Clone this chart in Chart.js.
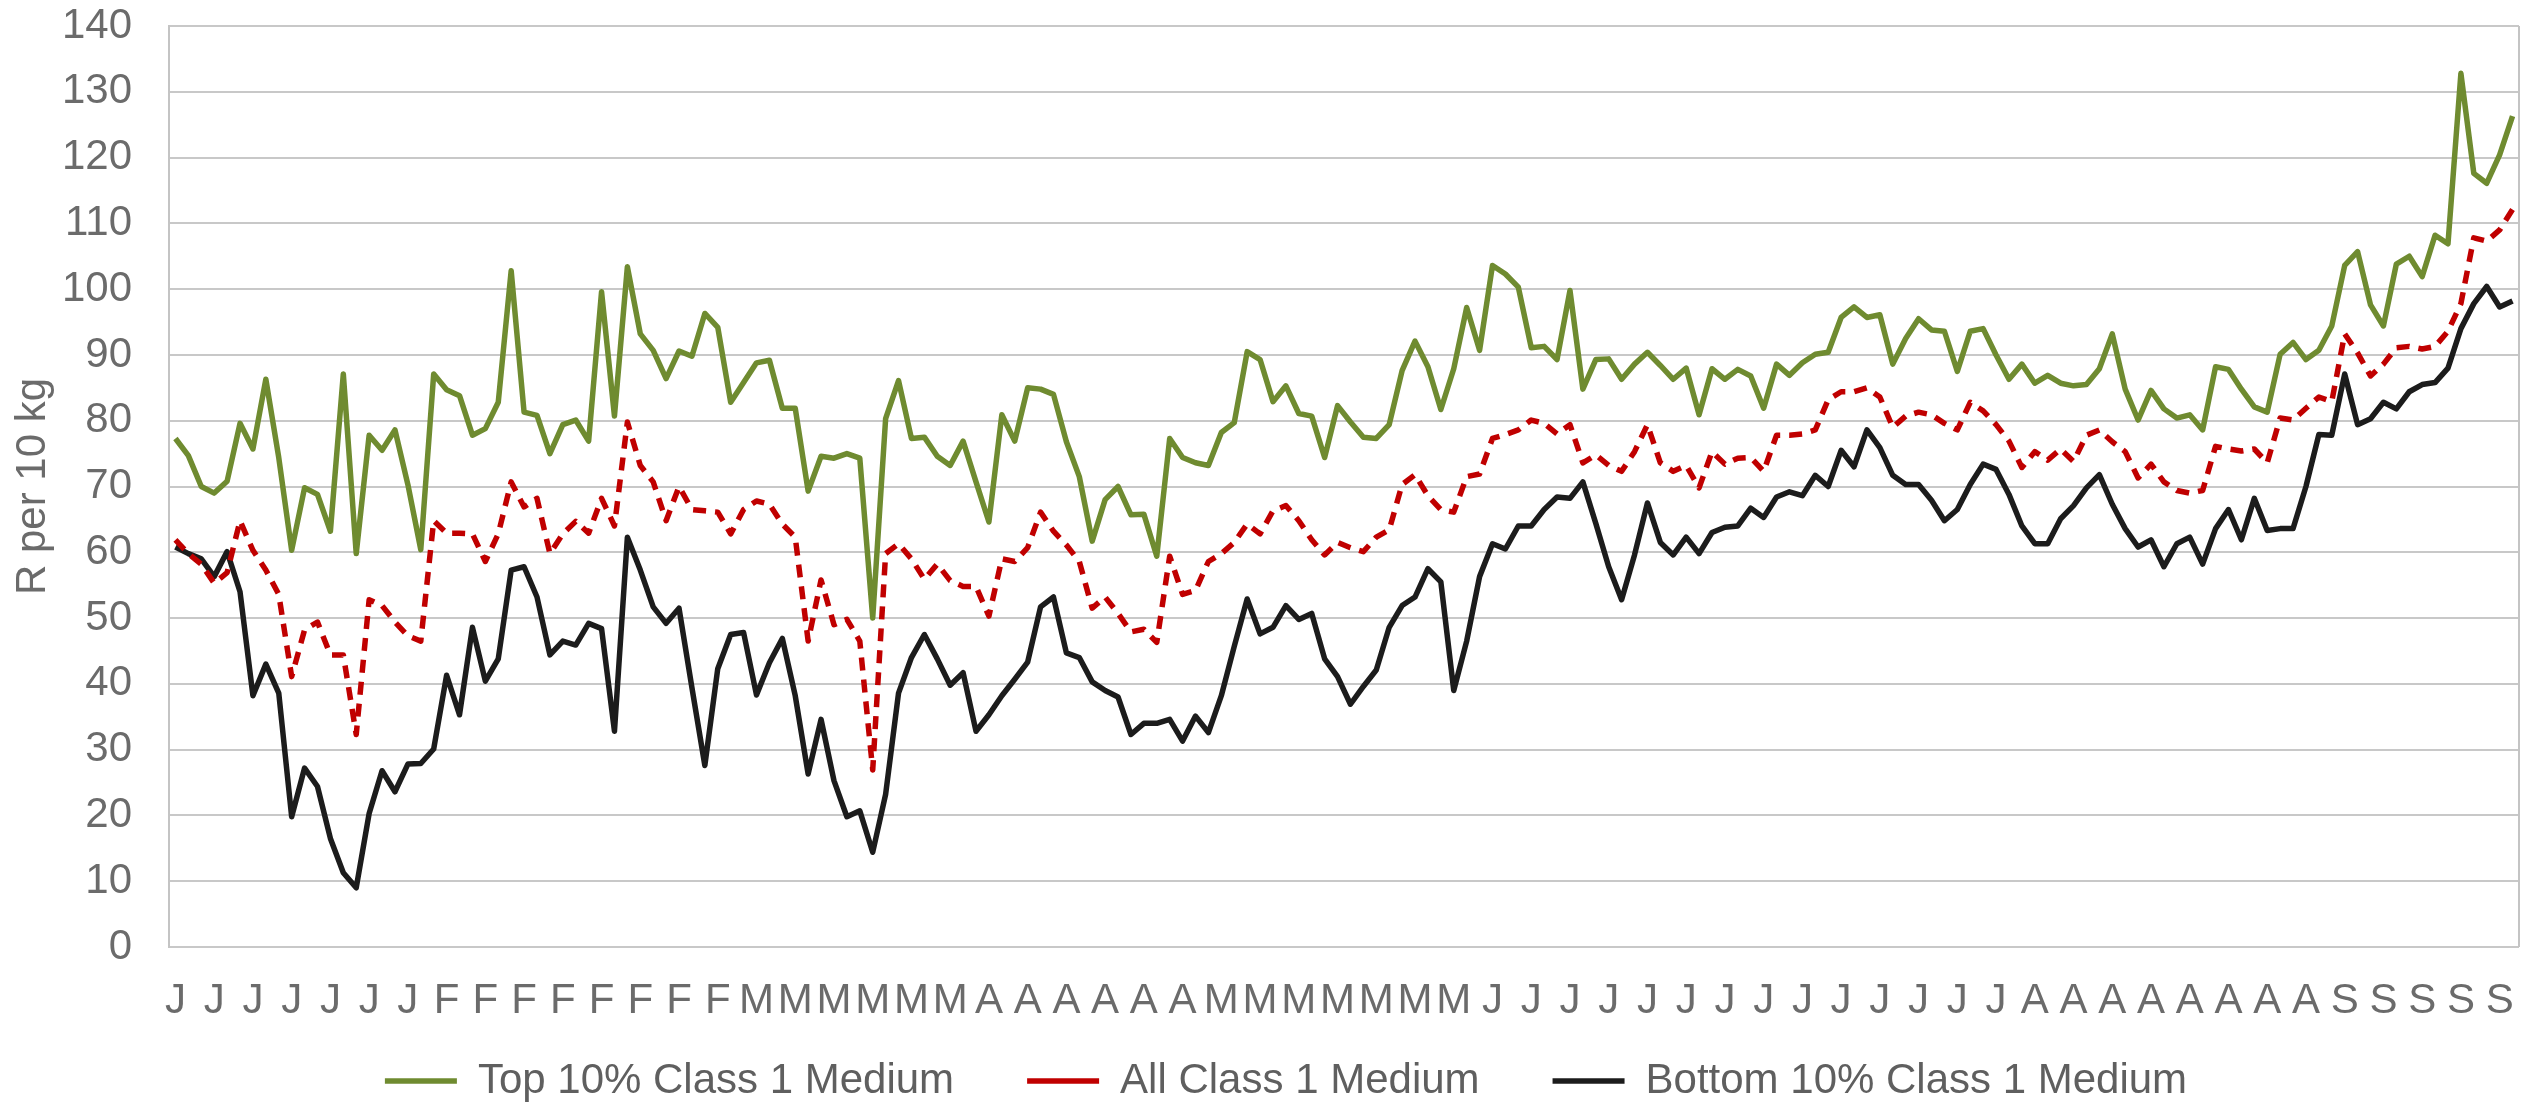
<!DOCTYPE html>
<html>
<head>
<meta charset="utf-8">
<script src="https://cdn.jsdelivr.net/npm/chart.js@4/dist/chart.umd.min.js"></script>
<style>
  html, body { margin: 0; padding: 0; background: #fff; }
  canvas { display: block; }
</style>
</head>
<body>
<canvas id="chart" width="2529" height="1106"></canvas>
<script>
// month initials shown on every third category
const tickLabels = "JJJJJJJFFFFFFFFMMMMMMAAAAAAMMMMMMMJJJJJJJJJJJJJJAAAAAAAASSSSS".split("");
const categories = Array.from({ length: 182 }, (_, i) => tickLabels[Math.floor(i / 3)]);

const topTen = [
  77.3, 74.7, 70, 69, 70.8, 79.6, 75.7, 86.3, 74.4, 60.3, 69.8, 68.8, 63.2, 87.1, 59.8, 77.8, 75.5, 78.6, 70.3, 60.4,
  87.1, 84.7, 83.8, 77.8, 78.8, 82.8, 102.8, 81.3, 80.8, 75, 79.4, 80.1, 76.9, 99.6, 80.7, 103.4, 93.2, 90.7, 86.4, 90.6,
  89.8, 96.3, 94.2, 82.8, 85.8, 88.8, 89.2, 81.9, 81.9, 69.3, 74.6, 74.3, 75, 74.3, 50, 80.3, 86.1, 77.3, 77.5, 74.6,
  73.2, 76.9, 70.7, 64.6, 80.9, 76.9, 85, 84.8, 84, 76.8, 71.5, 61.7, 68, 70, 65.7, 65.8, 59.4, 77.3, 74.4, 73.6,
  73.2, 78.2, 79.7, 90.5, 89.3, 82.9, 85.3, 81.1, 80.7, 74.4, 82.3, 79.8, 77.5, 77.3, 79.4, 87.6, 92.1, 88.2, 81.7, 87.9,
  97.2, 90.7, 103.6, 102.3, 100.3, 91.1, 91.3, 89.3, 99.8, 84.8, 89.3, 89.4, 86.3, 88.6, 90.4, 88.4, 86.3, 88, 80.9, 87.9,
  86.3, 87.8, 86.8, 81.9, 88.6, 86.9, 88.8, 90.1, 90.4, 95.7, 97.3, 95.7, 96.1, 88.6, 92.5, 95.5, 93.8, 93.6, 87.5, 93.6,
  94, 90, 86.3, 88.6, 85.7, 86.9, 85.7, 85.3, 85.5, 87.9, 93.2, 84.8, 80.1, 84.6, 81.8, 80.4, 80.9, 78.6, 88.2, 87.8,
  84.8, 82.1, 81.3, 90.1, 91.9, 89.3, 90.7, 94.4, 103.6, 105.7, 97.6, 94.4, 103.8, 105, 101.9, 108.2, 106.9, 132.8, 117.6, 116.1,
  120.4, 126.3
];

const allClass = [
  61.9, 59.8, 58.2, 55.3, 56.9, 64.8, 60.3, 57.3, 53.6, 41.1, 48.2, 49.4, 44.4, 44.4, 32.3, 52.8, 51.9, 49.4, 47.3, 46.5,
  64.8, 62.9, 62.9, 62.8, 58.6, 62.8, 70.7, 66.9, 68.2, 59.8, 62.8, 64.7, 62.9, 68.2, 64, 79.8, 73.2, 70.7, 64.8, 70,
  66.5, 66.3, 66.1, 62.8, 66.5, 67.8, 67.3, 64.3, 62.3, 46.5, 55.8, 49, 49.8, 46.5, 26.9, 59.8, 61.3, 59, 55.9, 58.2,
  55.7, 54.8, 54.8, 50.3, 59, 58.6, 60.7, 66.1, 63.2, 61.1, 58.6, 51.5, 53.2, 50.7, 47.9, 48.3, 46.3, 59.4, 53.6, 54.2,
  58.6, 59.8, 61.5, 64.3, 62.8, 66.3, 67.1, 64.8, 61.9, 59.6, 61.5, 60.7, 60.1, 62.3, 63.4, 70.3, 71.8, 68.6, 66.5, 66.1,
  71.5, 71.9, 77.3, 77.9, 78.6, 80.1, 79.6, 78, 79.4, 73.6, 74.8, 73.2, 72.3, 75.3, 79.4, 73.6, 72.3, 73.2, 69.8, 75.3,
  73.4, 74.3, 74.4, 72.3, 77.8, 77.8, 78, 78.6, 83.2, 84.4, 84.4, 85, 83.6, 79, 80.7, 81.3, 80.9, 79.6, 78.6, 82.8,
  81.5, 79.4, 76.9, 72.9, 75.3, 74, 75.7, 73.8, 77.8, 78.6, 76.8, 75.3, 71.3, 73.4, 70.7, 69.4, 69, 69.4, 76.1, 75.7,
  75.4, 75.7, 73.6, 80.4, 80.1, 81.9, 83.6, 82.9, 93.2, 90.3, 86.8, 88.6, 91.1, 91.3, 90.9, 91.3, 93.6, 97.8, 107.8, 107.3,
  109, 112.1
];

const bottomTen = [
  60.8, 59.8, 59, 56.3, 60.1, 54, 38.2, 43, 38.6, 19.8, 27.2, 24.4, 16.5, 11.3, 9, 20.3, 26.8, 23.6, 27.8, 27.9,
  30.1, 41.3, 35.3, 48.6, 40.4, 43.8, 57.3, 57.8, 53.2, 44.4, 46.5, 45.9, 49.2, 48.4, 32.8, 62.3, 57.3, 51.7, 49.2, 51.5,
  39.4, 27.6, 42.3, 47.5, 47.8, 38.3, 43.2, 46.9, 38.2, 26.3, 34.6, 25.3, 19.8, 20.7, 14.4, 23.2, 38.6, 44, 47.5, 43.8,
  39.8, 41.7, 32.8, 35.3, 38.2, 40.7, 43.3, 51.7, 53.2, 44.7, 44, 40.3, 39, 38, 32.3, 34, 34, 34.6, 31.3, 35.1,
  32.6, 38.2, 45.7, 52.9, 47.6, 48.6, 51.9, 49.8, 50.7, 43.8, 41.1, 36.9, 39.6, 42.1, 48.6, 51.9, 53.2, 57.5, 55.5, 39,
  46.5, 56.3, 61.3, 60.5, 64, 64, 66.5, 68.4, 68.2, 70.7, 64.4, 57.8, 52.8, 59.6, 67.5, 61.5, 59.6, 62.3, 59.8, 63,
  63.8, 64, 66.7, 65.3, 68.4, 69.2, 68.6, 71.7, 70, 75.5, 73, 78.6, 75.9, 71.7, 70.3, 70.3, 67.9, 64.8, 66.5, 70.3,
  73.4, 72.6, 68.8, 64, 61.3, 61.3, 65.1, 67.1, 69.8, 71.8, 67.3, 63.6, 60.8, 61.9, 57.8, 61.3, 62.3, 58.2, 63.6, 66.5,
  61.9, 68.2, 63.3, 63.6, 63.6, 70, 77.9, 77.8, 87.1, 79.4, 80.3, 82.8, 81.8, 84.4, 85.5, 85.8, 88, 94, 97.8, 100.4,
  97.3, 98.2
];

Chart.defaults.font.family = "'Liberation Sans', Arial, sans-serif";
Chart.defaults.font.size = 42;
Chart.defaults.color = "#6b6b6b";

// grey frame line on the right edge of the plot
const rightEdge = {
  id: "rightEdge",
  beforeDatasetsDraw(chart) {
    const { ctx, chartArea: a } = chart;
    ctx.save();
    ctx.strokeStyle = "#c4c4c4";
    ctx.lineWidth = 2;
    ctx.beginPath();
    ctx.moveTo(a.right, a.top);
    ctx.lineTo(a.right, a.bottom);
    ctx.stroke();
    ctx.restore();
  }
};

new Chart(document.getElementById("chart"), {
  type: "line",
  plugins: [rightEdge],
  data: {
    labels: categories,
    datasets: [
      { label: "Top 10% Class 1 Medium", data: topTen, borderColor: "#6f8b30", backgroundColor: "#6f8b30",
        borderWidth: 5.5, pointRadius: 0, tension: 0, borderJoinStyle: "round" },
      { label: "All Class 1 Medium", data: allClass, borderColor: "#c00000", backgroundColor: "#c00000",
        borderWidth: 5.5, borderDash: [13, 9], pointRadius: 0, tension: 0, borderJoinStyle: "round" },
      { label: "Bottom 10% Class 1 Medium", data: bottomTen, borderColor: "#1c1c1c", backgroundColor: "#1c1c1c",
        borderWidth: 5.5, pointRadius: 0, tension: 0, borderJoinStyle: "round" }
    ]
  },
  options: {
    responsive: false,
    devicePixelRatio: 1,
    animation: false,
    layout: { padding: { top: 26, left: 53, right: 10, bottom: -6 } },
    plugins: {
      tooltip: { enabled: false },
      legend: {
        position: "bottom",
        labels: {
          usePointStyle: true,
          pointStyle: "line",
          pointStyleWidth: 72,
          padding: 73,
          color: "#5f5f5f",
          font: { size: 42 }
        }
      }
    },
    scales: {
      x: {
        offset: true,
        grid: { display: false, drawTicks: false },
        border: { display: false },
        afterFit: s => { s.height = 40; },
        ticks: {
          autoSkip: false,
          maxRotation: 0,
          minRotation: 0,
          mirror: true,
          padding: -80,
          color: "#6b6b6b",
          callback: (v, i) => (i % 3 === 0 ? categories[i] : null)
        }
      },
      y: {
        min: 0,
        max: 140,
        afterFit: s => { s.width = 116; },
        ticks: { stepSize: 10, padding: 0, color: "#6b6b6b" },
        grid: { color: "#c8c8c8", lineWidth: 2, drawTicks: true, tickLength: 37, tickColor: "rgba(0,0,0,0)" },
        border: { display: true, color: "#c4c4c4", width: 2 },
        title: { display: true, text: "R per 10 kg", color: "#6b6b6b", font: { size: 42 }, padding: { top: -45, bottom: 8 } }
      }
    }
  }
});
</script>
</body>
</html>
